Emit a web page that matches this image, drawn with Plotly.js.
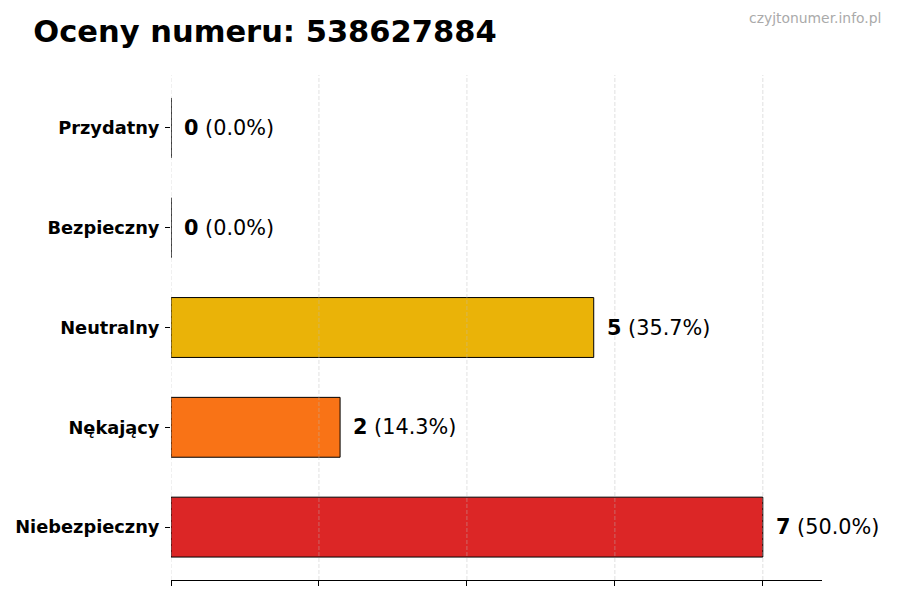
<!DOCTYPE html>
<html>
<head>
<meta charset="utf-8">
<script src="https://cdn.plot.ly/plotly-3.0.1.min.js"></script>
<style>
  html, body { margin: 0; padding: 0; background: #fff; }
  #chart { width: 900px; height: 600px; }
</style>
</head>
<body>
<div id="chart"></div>
<script>
// ratings of the number, bottom to top as drawn
var categories = ["Niebezpieczny", "Nękający", "Neutralny", "Bezpieczny", "Przydatny"];
var counts     = [7, 2, 5, 0, 0];
var barColors  = ["#DC2626", "#F97316", "#EAB308", "#22C55E", "#3B82F6"];
var gridTicks  = [0, 1.75, 3.5, 5.25, 7];

var total = counts.reduce(function (a, b) { return a + b; }, 0);
var xMax = Math.max.apply(null, counts) * 1.1;

var bars = {
  type: "bar",
  orientation: "h",
  y: categories,
  x: counts,
  width: 0.6,
  marker: { color: barColors, line: { color: "#000", width: 1 } },
  hoverinfo: "skip"
};

// labels to the right of each bar: bold count + share
var labels = counts.map(function (v, i) {
  var pct = total ? (v / total * 100).toFixed(1) : "0.0";
  return {
    x: v, y: categories[i], xref: "x", yref: "y",
    text: "<b>" + v + "</b> (" + pct + "%)",
    showarrow: false, xanchor: "left", xshift: 11,
    font: { family: "DejaVu Sans", size: 20.8, color: "#000" }
  };
});

labels.push({
  xref: "paper", yref: "paper", x: 1.094, y: 1.113,
  xanchor: "right", yanchor: "middle",
  text: "czyjtonumer.info.pl", showarrow: false,
  font: { family: "DejaVu Sans", size: 13.9, color: "#aaaaaa" }
});

// dashed grid drawn above the bars, like the original
var grid = gridTicks.map(function (t) {
  return {
    type: "line", xref: "x", yref: "paper", x0: t, x1: t, y0: 0, y1: 1,
    layer: "above", line: { color: "rgba(185,185,185,0.55)", width: 0.8, dash: "4px,2px" }
  };
});

var layout = {
  width: 900, height: 600,
  margin: { l: 171, r: 78, t: 75, b: 20 },
  paper_bgcolor: "#fff", plot_bgcolor: "#fff",
  font: { family: "DejaVu Sans", color: "#000" },
  title: {
    text: "<b>Oceny numeru: 538627884</b>",
    x: 0.037, xanchor: "left", y: 0.948, yanchor: "middle",
    font: { family: "DejaVu Sans", size: 30.5, color: "#000" }
  },
  showlegend: false,
  bargap: 0.4,
  xaxis: {
    range: [0, xMax], tickvals: gridTicks, showticklabels: false,
    showgrid: false, zeroline: false,
    showline: true, linecolor: "#000", linewidth: 1,
    ticks: "outside", ticklen: 5, tickcolor: "#000",
    fixedrange: true
  },
  yaxis: {
    categoryorder: "array", categoryarray: categories,
    range: [-0.53, 4.53],
    showgrid: false, zeroline: false, showline: false,
    ticks: "outside", ticklen: 5, tickcolor: "#000",
    tickfont: { family: "DejaVu Sans", size: 17.8, color: "#000", weight: "bold" },
    ticklabelstandoff: 2,
    fixedrange: true
  },
  shapes: grid,
  annotations: labels
};

Plotly.newPlot("chart", [bars], layout, { displayModeBar: false, staticPlot: true });
</script>
</body>
</html>
